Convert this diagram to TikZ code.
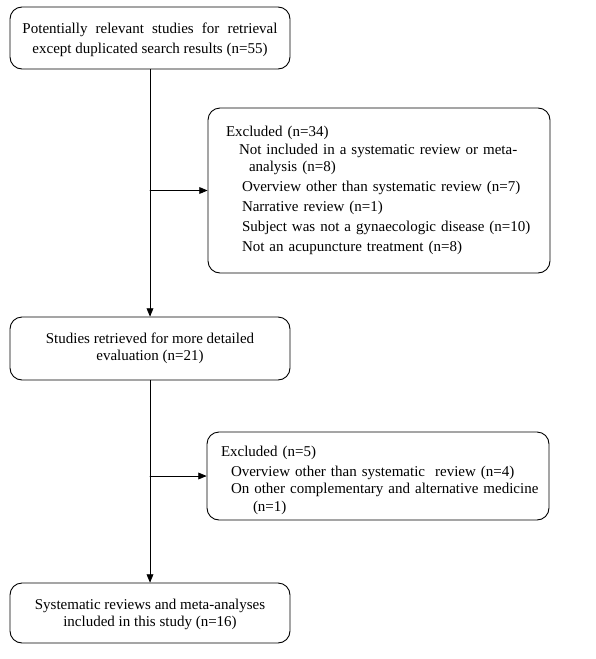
\documentclass[tikz,border=0pt]{standalone}
\usepackage{fontspec}
\setmainfont{Liberation Serif}
\usetikzlibrary{arrows}

\begin{document}
\begin{tikzpicture}[x=1pt,y=-1pt,line cap=round,line join=round,>=triangle 45,
    mainbox/.style={draw,line width=0.9pt,rounded corners=12pt,minimum width=280pt,align=center,
      font=\fontsize{15}{16.8}\selectfont},
    exclbox/.style={draw,line width=0.9pt,rounded corners=12pt,minimum width=342pt,align=left,
      font=\fontsize{15}{17.5}\selectfont,text width=330pt}]
        \useasboundingbox (0,0) rectangle (595,659);
        % main flow
        \node[mainbox,minimum height=62pt] (found) at (150,38)
            {\rule{0pt}{14pt}\makebox[255pt][s]{Potentially relevant studies for retrieval}\\[3pt]
             except duplicated search results (n=55)};
        \node[mainbox,minimum height=63pt] (retr) at (150,348.5)
            {Studies retrieved for more detailed\\evaluation (n=21)};
        \node[mainbox,minimum height=60pt] (incl) at (150,613)
            {\rule{0pt}{14pt}Systematic reviews and meta-analyses\\included in this study (n=16)};
        % exclusions
        \node[exclbox,minimum height=165pt] (excla) at (379,190.5)
            {\hspace*{12pt}Excluded (n=34)\\
             \hspace*{25pt}Not included in a systematic review or meta-\\
             \hspace*{35pt}analysis (n=8)\\[2pt]
             \hspace*{28pt}Overview other than systematic review (n=7)\\[2.5pt]
             \hspace*{28pt}Narrative review (n=1)\\[2.5pt]
             \hspace*{28pt}Subject was not a gynaecologic disease (n=10)\\[2.5pt]
             \hspace*{28pt}Not an acupuncture treatment (n=8)};
        \node[exclbox,minimum height=88pt] (exclb) at (378,476)
            {\rule{0pt}{19pt}\hspace*{8pt}Excluded (n=5)\\[2.5pt]
             \hspace*{18pt}Overview other than systematic\ \ review (n=4)\\
             \hspace*{18pt}On other complementary and alternative medicine\\
             \hspace*{40pt}(n=1)};
        % connectors
        \coordinate (splita) at (found.south |- excla.west);
        \coordinate (splitb) at (retr.south |- exclb.west);
        \draw[->,line width=0.9pt] (found.south) -- (retr.north);
        \draw[->,line width=0.9pt] (splita) -- (excla.west);
        \draw[->,line width=0.9pt] (retr.south) -- (incl.north);
        \draw[->,line width=0.9pt] (splitb) -- (exclb.west);
      \end{tikzpicture}
\end{document}
